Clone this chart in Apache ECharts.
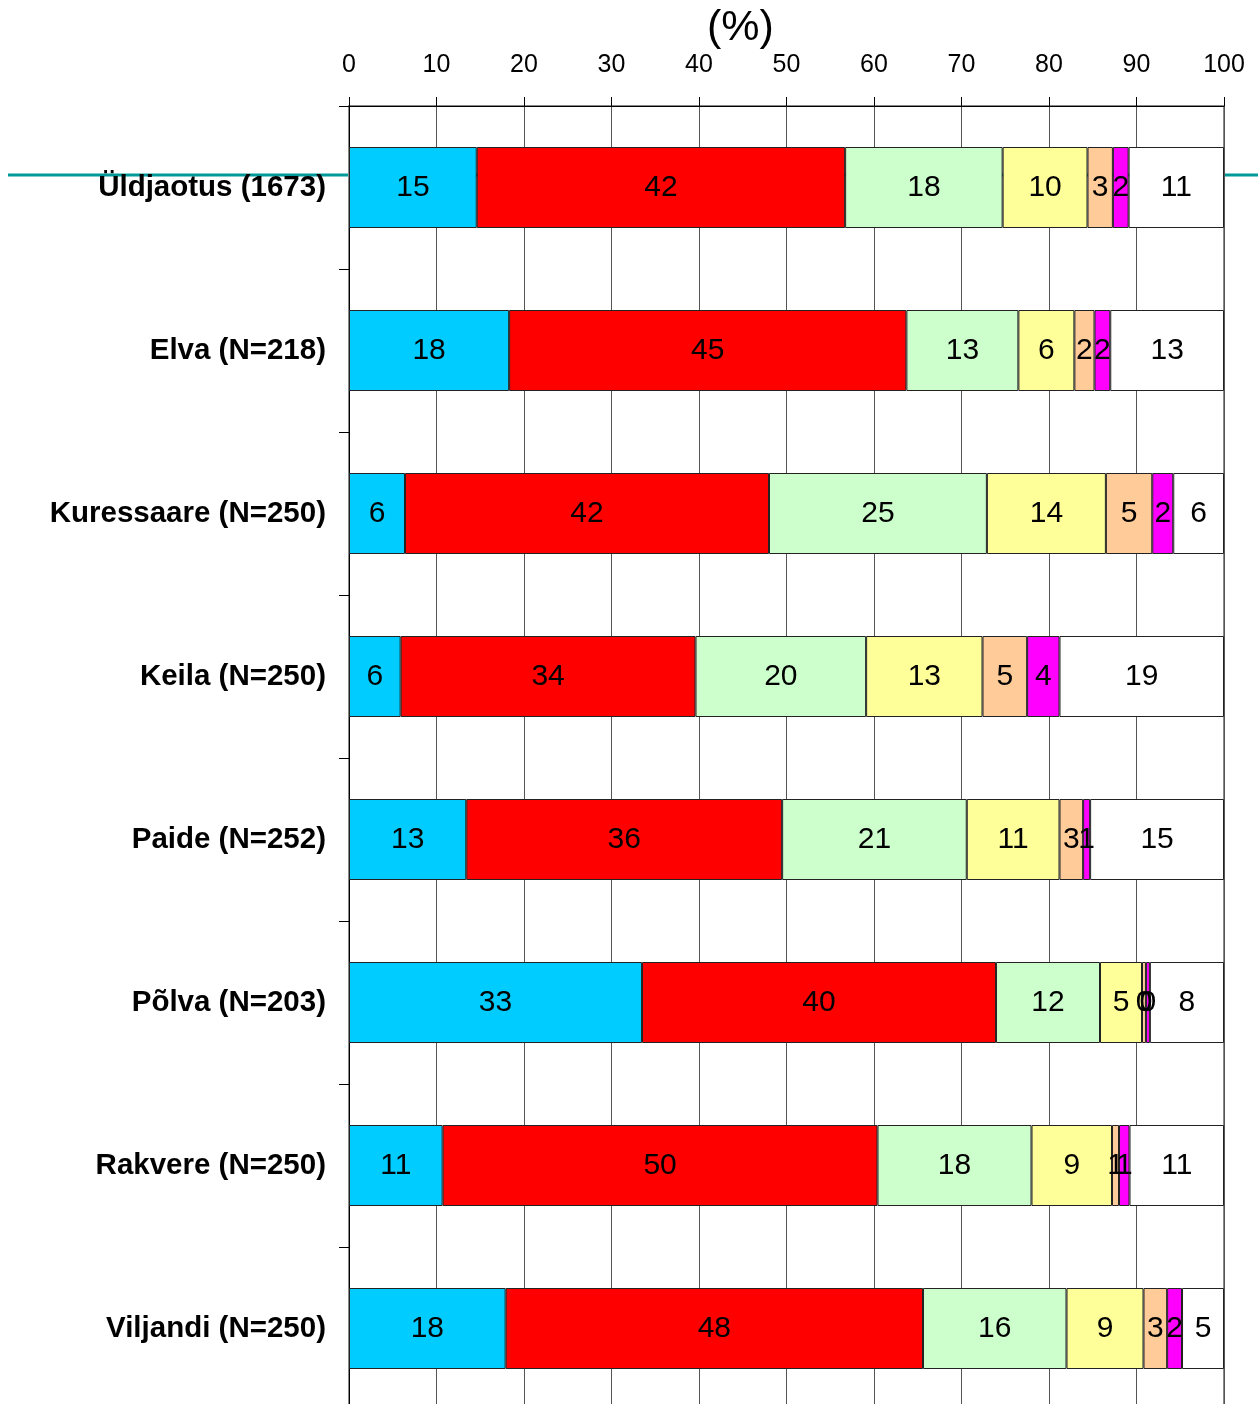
<!DOCTYPE html>
<html>
<head>
<meta charset="utf-8">
<script src="https://cdn.jsdelivr.net/npm/echarts@6/dist/echarts.min.js"></script>
<style>
  html, body { margin: 0; padding: 0; background: #fff; overflow: hidden; }
  #chart { width: 1258px; height: 1410px; }
</style>
</head>
<body>
<div id="chart"></div>
<script>
// kategooriad ülevalt alla
var categories = ['Üldjaotus (1673)', 'Elva (N=218)', 'Kuressaare (N=250)', 'Keila (N=250)',
  'Paide (N=252)', 'Põlva (N=203)', 'Rakvere (N=250)', 'Viljandi (N=250)'];
var xTicks = [0, 10, 20, 30, 40, 50, 60, 70, 80, 90, 100];

// protsendid, loetud pildilt
var cyanVals    = [14.6, 18.3, 6.4, 5.9, 13.4, 33.49, 10.7, 17.9];
var redVals     = [42.1, 45.4, 41.6, 33.7, 36.1, 40.45, 49.7, 47.7];
var greenVals   = [18.0, 12.8, 24.9, 19.5, 21.1, 11.89, 17.6, 16.4];
var yellowVals  = [9.7, 6.4, 13.6, 13.3, 10.6, 4.8, 9.2, 8.8];
var peachVals   = [2.9, 2.3, 5.3, 5.1, 2.7, 0.45, 0.8, 2.7];
var magentaVals = [1.8, 1.8, 2.4, 3.7, 0.8, 0.45, 1.2, 1.7];
var whiteVals   = [10.9, 13.0, 5.8, 18.8, 15.3, 8.47, 10.8, 4.8];

var seriesData = [cyanVals, redVals, greenVals, yellowVals, peachVals, magentaVals, whiteVals];
var colors = ['#00ccff', '#ff0000', '#ccffcc', '#ffff99', '#ffcc99', '#ff00ff', '#ffffff'];

var myChart = echarts.init(document.getElementById('chart'));

var series = seriesData.map(function (vals, i) {
  return {
    name: 's' + (i + 1),
    type: 'bar',
    stack: 'total',
    barWidth: 81,
    itemStyle: { color: colors[i], borderColor: '#222', borderWidth: 1 },
    label: {
      show: true,
      position: 'inside',
      color: '#000',
      fontSize: 30,
      fontFamily: 'Liberation Sans',
      formatter: function (p) { return Math.round(p.value); }
    },
    data: vals
  };
});

myChart.setOption({
  animation: false,
  backgroundColor: '#fff',
  title: {
    text: '(%)',
    left: 702,
    top: 2,
    textStyle: { fontSize: 43, fontWeight: 'normal', color: '#000', fontFamily: 'Liberation Sans' }
  },
  // kõrgus 8 x 163, viimane rida jääb alt veidi pildist välja
  grid: {
    left: 349, right: 34, top: 106, height: 1304, containLabel: false,
    show: true, borderColor: '#888', borderWidth: 2
  },
  xAxis: {
    type: 'value',
    position: 'top',
    min: xTicks[0],
    max: xTicks[xTicks.length - 1],
    interval: 10,
    axisLine: { show: true, lineStyle: { color: '#000', width: 1 } },
    axisTick: { show: true, length: 9, lineStyle: { color: '#000' } },
    axisLabel: { color: '#000', fontSize: 25, margin: 28, fontFamily: 'Liberation Sans' },
    splitLine: { show: true, lineStyle: { color: '#555', width: 1 } }
  },
  yAxis: {
    type: 'category',
    inverse: true,
    data: categories,
    axisLine: { show: true, lineStyle: { color: '#000', width: 1 } },
    axisTick: { show: true, length: 10, alignWithLabel: false, lineStyle: { color: '#000' } },
    axisLabel: { color: '#000', fontSize: 29.5, fontWeight: 'bold', margin: 23, fontFamily: 'Liberation Sans' },
    splitLine: { show: false }
  },
  graphic: [{
    type: 'line',
    z: -1,
    shape: { x1: 8, y1: 175, x2: 1258, y2: 175 },
    style: { stroke: '#009999', lineWidth: 3 }
  }],
  series: series
});
</script>
</body>
</html>
